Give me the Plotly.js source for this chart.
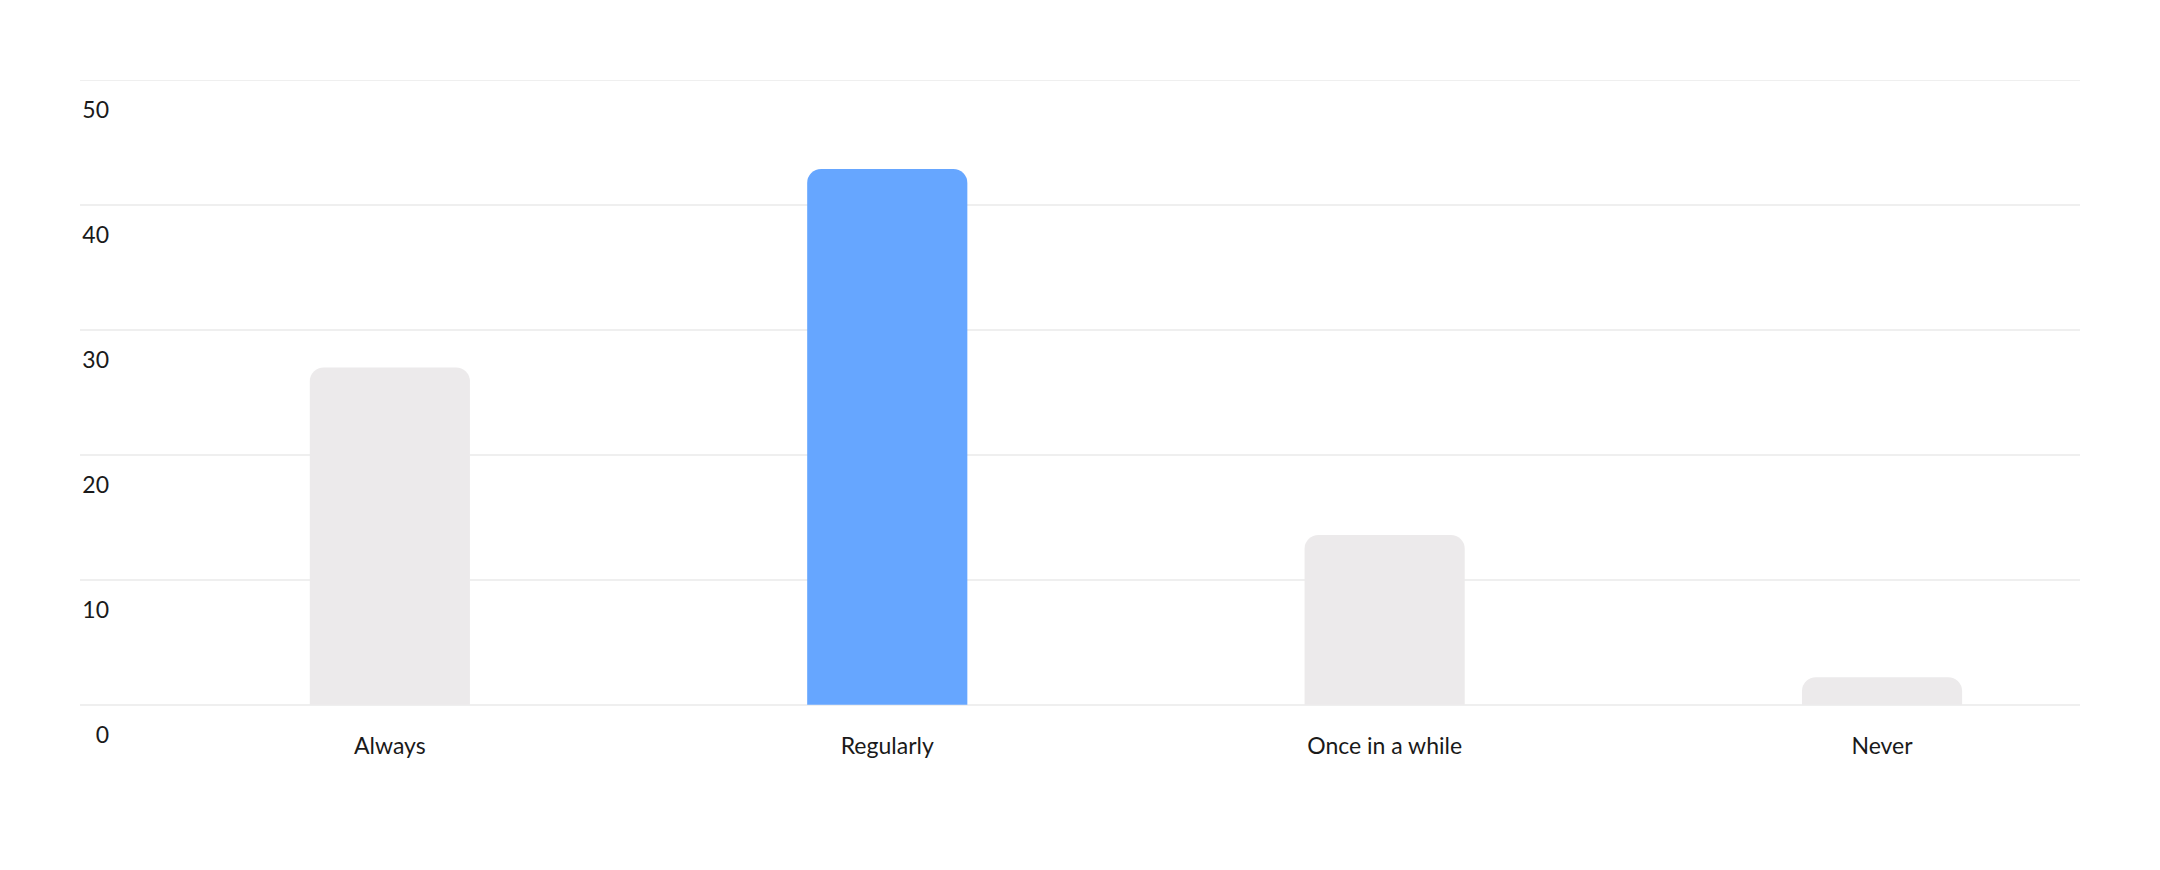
<!DOCTYPE html>
<html>
<head>
<meta charset="utf-8">
<script src="https://cdn.plot.ly/plotly-3.0.1.min.js"></script>
<style>
  html, body { margin: 0; padding: 0; background: #ffffff; }
  #chart { width: 2160px; height: 870px; }
</style>
</head>
<body>
<div id="chart"></div>
<script>
const categories = ["Always", "Regularly", "Once in a while", "Never"];
const values = [27.0, 42.9, 13.6, 2.2];
const barColors = ["#ECEAEB", "#66A6FF", "#ECEAEB", "#ECEAEB"];
const yTicks = [0, 10, 20, 30, 40, 50];

const trace = {
  type: "bar",
  x: categories,
  y: values,
  width: 0.322,
  marker: { color: barColors, cornerradius: 14, line: { width: 0 } },
  hoverinfo: "x+y"
};

const layout = {
  width: 2160,
  height: 870,
  paper_bgcolor: "#ffffff",
  plot_bgcolor: "#ffffff",
  margin: { l: 80, r: 80, t: 79, b: 164 },
  showlegend: false,
  font: { family: "Lato, 'Open Sans', sans-serif", size: 23, color: "#1a1a1a" },
  xaxis: {
    type: "category",
    range: [-0.623, 3.398],
    showgrid: false,
    zeroline: false,
    showline: false,
    ticks: "",
    ticklabelstandoff: 24,
    tickfont: { size: 23, color: "#1a1a1a" }
  },
  yaxis: {
    range: [-0.1, 50.1],
    tickvals: yTicks,
    ticktext: yTicks.map(String),
    showgrid: true,
    gridcolor: "#EFEFEF",
    gridwidth: 1.5,
    zeroline: false,
    showline: false,
    ticks: "",
    ticklabelstandoff: -30,
    ticklabelshift: 30,
    tickfont: { size: 23, color: "#1a1a1a" }
  }
};

Plotly.newPlot("chart", [trace], layout, { displayModeBar: false, staticPlot: true });
</script>
</body>
</html>
